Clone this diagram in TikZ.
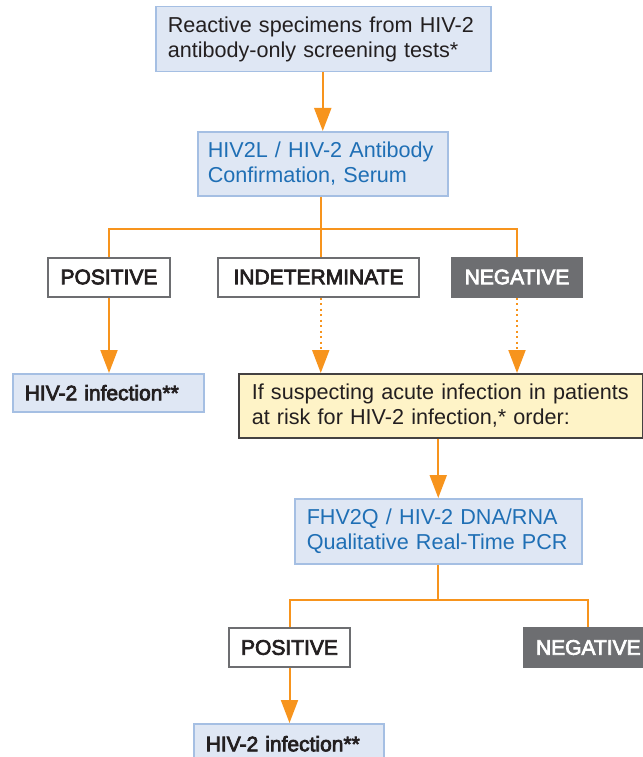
\documentclass[tikz,border=0pt]{standalone}
\usepackage{fontspec}
\setmainfont{Liberation Sans}
\newfontfamily\medfont[FakeBold=3.5]{Liberation Sans}
\usepackage{xcolor}
\usetikzlibrary{arrows.meta, calc, positioning}
\definecolor{flow}{HTML}{F7941D}
\definecolor{bluefill}{HTML}{DFE7F4}
\definecolor{blueline}{HTML}{A5BFE3}
\definecolor{bluetext}{HTML}{1F6FB5}
\definecolor{yellowfill}{HTML}{FEF3C7}
\definecolor{darkgray}{HTML}{6D6E71}
\definecolor{ink}{HTML}{231F20}
\tikzset{
    every node/.style={font=\fontsize{21.6}{25.5}\selectfont, text=ink},
    testbox/.style={draw=blueline, line width=1.5pt, fill=bluefill, anchor=north west, align=left, inner xsep=12pt, inner ysep=0pt},
    resultbox/.style={testbox, font=\fontsize{21}{25}\medfont},
    outcome/.style={draw=darkgray, line width=2pt, fill=white, minimum height=39pt, inner xsep=0pt, font=\fontsize{21}{25}\medfont},
    negbox/.style={outcome, fill=darkgray, text=white},
    notebox/.style={testbox, draw=ink!85, fill=yellowfill, line width=1.5pt},
    boxsize/.style 2 args={minimum width=#1, minimum height=#2},
    link/.style={draw=flow, line width=2pt},
    linkto/.style={link, -{Triangle[width=17pt, length=23pt]}},
    maybeto/.style={linkto, dash pattern=on 2pt off 3.5pt},
}

\begin{document}
\begin{tikzpicture}[x=1pt, y=-1pt]
    \useasboundingbox (0,0) rectangle (642,757);
    % first test
    \node[testbox, boxsize={335pt}{65pt}, text width=311pt] (screen) at (155,6) {Reactive specimens from HIV-2\\antibody-only screening tests*};
    \node[testbox, boxsize={250pt}{64pt}, text=bluetext, inner xsep=10pt, text width=230pt] (conf) at (197,131) {HIV2L / HIV-2 Antibody\\Confirmation, Serum};
    \node[outcome, minimum width=122pt] (pos1) at (109,277) {POSITIVE};
    \node[outcome, minimum width=201pt] (indet) at (318.5,277) {INDETERMINATE};
    \node[negbox, minimum width=130pt] (neg1) at (517,277) {NEGATIVE};
    \node[resultbox, boxsize={191pt}{38pt}, text width=167pt] (hiv1) at (12,373) {HIV-2 infection**};
    \node[notebox, boxsize={404pt}{64pt}, inner xsep=13pt, text width=378pt] (acute) at (238,373) {If suspecting acute infection in patients\\at risk for HIV-2 infection,* order:};
    % second test
    \node[testbox, boxsize={287pt}{65pt}, text=bluetext, text width=263pt] (pcr) at (294,498) {FHV2Q / HIV-2 DNA/RNA\\Qualitative Real-Time PCR};
    \node[outcome, minimum width=121pt] (pos2) at (289.5,647.5) {POSITIVE};
    \node[negbox, minimum width=128pt, anchor=west, inner xsep=12pt, text width=104pt, align=left] (neg2) at (523,647.5) {NEGATIVE};
    \node[resultbox, boxsize={190pt}{40pt}, text width=166pt] (hiv2) at (193,723) {HIV-2 infection**};

    \coordinate (split1) at ($(conf.south)+(-2,32)$);
    \coordinate (split2) at ($(pcr.south)+(0,35)$);
    \draw[link] (conf.south -| split1) -- (split1) -- (split1 |- indet.north)
        (pos1.north) |- (split1) -| (neg1.north);
    \draw[link] (pcr.south) -- (split2)
        (pos2.north) |- (split2) -| (neg2.north);
    \draw
    (screen.south -| conf.north) edge[linkto] (conf.north)
    (pos1.south) edge[linkto] (pos1.south |- hiv1.north)
    (split1 |- indet.south) edge[maybeto] (split1 |- acute.north)
    (neg1.south) edge[maybeto] (neg1.south |- acute.north)
    (pcr.north |- acute.south) edge[linkto] (pcr.north)
    (pos2.south) edge[linkto] (pos2.south |- hiv2.north);
\end{tikzpicture}
\end{document}
